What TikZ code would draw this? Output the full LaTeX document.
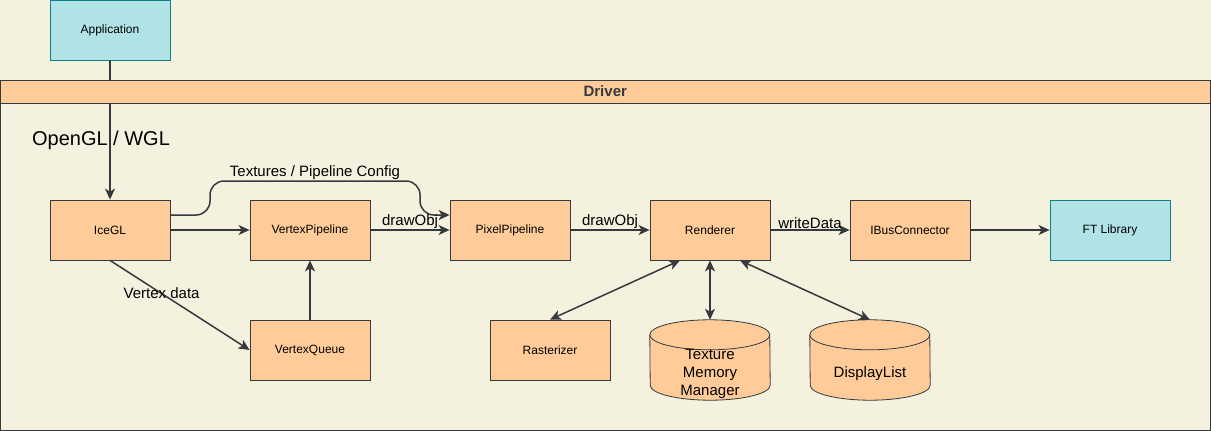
\documentclass[tikz,border=0pt]{standalone}
\usepackage{fontspec}
\setmainfont{Liberation Sans}
\usetikzlibrary{arrows.meta}
\definecolor{bgcol}{HTML}{F4F1DE}
\definecolor{peach}{HTML}{FFCC99}
\definecolor{aqua}{HTML}{B0E3E6}
\definecolor{aqualine}{HTML}{0E8088}
\definecolor{ink}{HTML}{36393D}
\pgfdeclarelayer{back}
\pgfsetlayers{back,main}
\newcommand{\boxfont}{\fontsize{12}{14}\selectfont}
\newcommand{\lblfont}{\fontsize{15}{18}\selectfont}
\newcommand{\drum}[1]{%
  \draw[ink, fill=peach, line width=0.8pt] ([yshift=-15pt]#1.north west)
    arc[start angle=180, end angle=0, x radius=60pt, y radius=15pt]
    -- ([yshift=15pt]#1.south east)
    arc[start angle=0, end angle=-180, x radius=60pt, y radius=15pt] -- cycle;
  \draw[ink, line width=0.8pt] ([yshift=-15pt]#1.north west)
    arc[start angle=180, end angle=360, x radius=60pt, y radius=15pt];}
\begin{document}
\begin{tikzpicture}[x=1pt,y=-1pt]
    \tikzstyle{block}=[draw=ink, fill=peach, line width=0.8pt, minimum width=120pt, minimum height=60pt, inner sep=0pt, font=\boxfont]
    \tikzstyle{outer}=[block, draw=aqualine, fill=aqua]
    \tikzstyle{store}=[minimum width=120pt, minimum height=80pt, inner sep=0pt]
    \tikzstyle{storetext}=[font=\lblfont, align=center, inner sep=0pt, yshift=-14pt]
    \tikzstyle{flow}=[draw=ink, line width=1.5pt, -{Stealth[length=11pt,width=10pt,inset=3pt]}]
    \tikzstyle{both}=[flow, {Stealth[length=11pt,width=10pt,inset=3pt]}-{Stealth[length=11pt,width=10pt,inset=3pt]}]
    \tikzstyle{lbl}=[font=\lblfont, inner sep=1pt]
    \begin{pgfonlayer}{back}
      \fill[bgcol] (0,0) rectangle (1211,431);
    \end{pgfonlayer}
    \useasboundingbox (0,0) rectangle (1211,431);
    \node[outer] (app) at (110,30) {Application};
    \node[block] (ice) at (110,230) {IceGL};
    \draw[flow] (app) -- node[lbl, pos=0.571, xshift=-9pt, font=\fontsize{20}{24}\selectfont] {OpenGL / WGL} (ice);
    % driver container
    \draw[ink, line width=0.8pt] (0.5,103) -- (0.5,430) -- (1210,430) -- (1210,103);
    \draw[ink, fill=peach, line width=0.8pt] (0.5,80) rectangle node[font=\bfseries\lblfont] {Driver} (1210,103);
    \node[block] (vpipe) at (310,230) {VertexPipeline};
    \node[block] (ppipe) at (510,230) {PixelPipeline};
    \node[block] (rend) at (710,230) {Renderer};
    \node[block] (ibus) at (910,230) {IBusConnector};
    \node[outer] (ft) at (1110,230) {FT Library};
    \node[block] (vqueue) at (310,350) {VertexQueue};
    \node[block] (rast) at (550,350) {Rasterizer};
    \node[store, label={[storetext]center:Texture\\Memory\\Manager}] (texmem) at (710,360) {};
    \node[store, label={[storetext]center:DisplayList}] (dlist) at (870,360) {};
    \begin{pgfonlayer}{back}
      \drum{texmem}
      \drum{dlist}
    \end{pgfonlayer}
    \draw[flow, rounded corners=14pt] ([yshift=15pt]ice.east) -| (210,181)
      -- node[lbl, above] {Textures / Pipeline Config} (420,181) |- ([yshift=15pt]ppipe.west);
    \draw[flow] (ice) -- (vpipe);
    \draw[flow] (vpipe) -- node[lbl, above] {drawObj} (ppipe);
    \draw[flow] (ppipe) -- node[lbl, above] {drawObj} (rend);
    \draw[flow] (rend) -- node[lbl, above] {writeData} (ibus);
    \draw[flow] (ibus) -- (ft);
    \draw[flow] (ice.south) -- node[lbl, pos=0.37] {Vertex data} (vqueue.west);
    \draw[flow] (vqueue) -- (vpipe);
    \draw[both] ([xshift=-30pt]rend.south) -- (rast.north);
    \draw[both] (rend.south) -- (texmem.north);
    \draw[both] ([xshift=30pt]rend.south) -- (dlist.north);
\end{tikzpicture}
\end{document}
